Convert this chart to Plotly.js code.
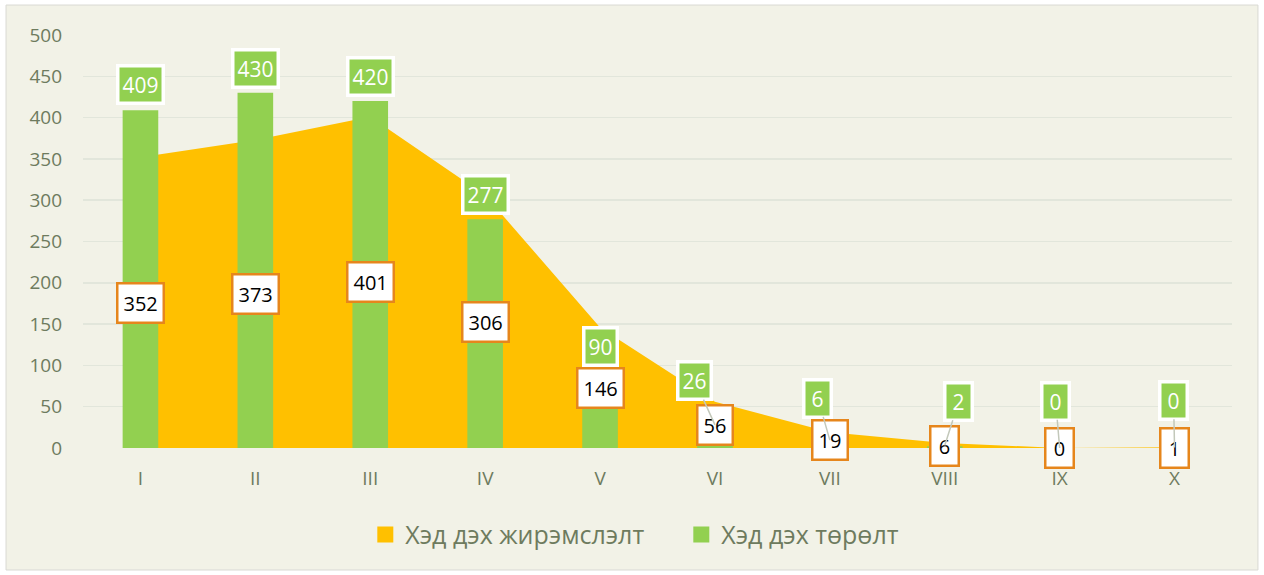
<!DOCTYPE html>
<html>
<head>
<meta charset="utf-8">
<script src="https://cdn.plot.ly/plotly-3.0.1.min.js"></script>
<style>html,body{margin:0;padding:0;background:#fff;}#chart{width:1264px;height:575px;}</style>
</head>
<body>
<div id="chart"></div>
<script>
const categories = ['I','II','III','IV','V','VI','VII','VIII','IX','X'];
const pregnancyOrder = [352, 373, 401, 306, 146, 56, 19, 6, 0, 1];   // Хэд дэх жирэмслэлт
const birthOrder = [409, 430, 420, 277, 90, 26, 6, 2, 0, 0];          // Хэд дэх төрөлт
const yTicks = [0, 50, 100, 150, 200, 250, 300, 350, 400, 450, 500];
const seriesNames = ['Хэд дэх жирэмслэлт', 'Хэд дэх төрөлт'];

// label style offsets (pixels)
const greenShiftUp = [26, 24, 25, 25, 27];
const greenLeader = {5: [-20, -44], 6: [-12, -42], 7: [14, -44], 8: [-4, -47], 9: [-1, -47]};

const FONT = '"Open Sans", "Noto Sans", Arial, sans-serif';
const BG = '#F2F2E7';
const TXT = '#6E7B5E';
const ORANGE = '#FFC000';
const GREEN = '#92D050';

const traces = [
  {
    type: 'scatter', x: categories, y: pregnancyOrder, name: seriesNames[0],
    mode: 'none', fill: 'tozeroy', fillcolor: ORANGE, line: {width: 0, color: ORANGE},
    xaxis: 'x', yaxis: 'y', hoverinfo: 'skip', showlegend: false
  },
  {
    type: 'bar', x: categories, y: birthOrder, name: seriesNames[1],
    marker: {color: GREEN, line: {width: 0}}, width: 0.31,
    xaxis: 'x', yaxis: 'y2', hoverinfo: 'skip', showlegend: false
  },
  // legend swatches (square) for both series
  {
    type: 'scatter', x: [categories[0]], y: [null], name: seriesNames[0], mode: 'markers',
    marker: {symbol: 'square', size: 16, color: ORANGE}, xaxis: 'x', yaxis: 'y2', hoverinfo: 'skip'
  },
  {
    type: 'scatter', x: [categories[0]], y: [null], name: seriesNames[1], mode: 'markers',
    marker: {symbol: 'square', size: 16, color: GREEN}, xaxis: 'x', yaxis: 'y2', hoverinfo: 'skip'
  }
];

const annotations = [];
categories.forEach((c, i) => {
  const t = String(pregnancyOrder[i]);
  const a = {
    x: c, y: pregnancyOrder[i] / 2, xref: 'x', yref: 'y',
    text: t, showarrow: false,
    font: {family: FONT, size: 20, color: '#000'},
    bgcolor: '#FFFFFF', bordercolor: '#E6861C', borderwidth: 2.5, borderpad: 5
  };
  if (t.length === 1) a.width = 16;
  annotations.push(a);
});
categories.forEach((c, i) => {
  const t = String(birthOrder[i]);
  const base = {
    xref: 'x', yref: 'y', text: t,
    font: {family: FONT, size: 21, color: '#FFFFFF'},
    bgcolor: GREEN, bordercolor: '#FFFFFF', borderwidth: 3.5, borderpad: 3
  };
  if (t.length === 1) base.width = 18;
  if (i < 5) {
    annotations.push(Object.assign({}, base, {x: c, y: birthOrder[i], showarrow: false, yshift: greenShiftUp[i], yanchor: 'middle'}));
  } else {
    const off = greenLeader[i];
    annotations.push(Object.assign({}, base, {
      x: c, y: pregnancyOrder[i] / 2, showarrow: true, arrowhead: 0, arrowwidth: 1.5,
      arrowcolor: '#C3C8BA', standoff: 0, startstandoff: 0, ax: off[0], ay: off[1]
    }));
  }
});

const layout = {
  width: 1264, height: 575,
  paper_bgcolor: '#FFFFFF', plot_bgcolor: BG,
  margin: {l: 83, r: 32, t: 35, b: 127},
  showlegend: true,
  barmode: 'overlay',
  legend: {
    orientation: 'h', x: 0.2457, xanchor: 'left', y: -0.21, yanchor: 'middle',
    font: {family: FONT, size: 25, color: TXT}, bgcolor: 'rgba(0,0,0,0)', traceorder: 'normal',
    itemwidth: 30, itemsizing: 'trace', entrywidth: 271, entrywidthmode: 'pixels'
  },
  xaxis: {
    type: 'category', range: [-0.5, 9.5], autorange: false,
    showgrid: false, zeroline: false, showline: false, ticks: '',
    tickfont: {family: FONT, size: 19, color: TXT}, ticklabelstandoff: 17, fixedrange: true
  },
  yaxis: {
    range: [0, 500], tickvals: yTicks, showgrid: true, gridcolor: '#E2E6DB', gridwidth: 1.5,
    zeroline: false, showline: false, ticks: '',
    tickfont: {family: FONT, size: 19, color: TXT}, ticklabelstandoff: 20
  },
  yaxis2: {
    range: [0, 500], overlaying: 'y', side: 'left', visible: false, showgrid: false, zeroline: false
  },
  shapes: [
    {type: 'rect', xref: 'paper', yref: 'paper', x0: -0.067, x1: 1.0226, y0: -0.2954, y1: 1.0726,
     fillcolor: BG, line: {color: '#D9D9D4', width: 1}, layer: 'below'}
  ],
  annotations: annotations
};

Plotly.newPlot('chart', traces, layout, {staticPlot: true, displayModeBar: false});
</script>
</body>
</html>
